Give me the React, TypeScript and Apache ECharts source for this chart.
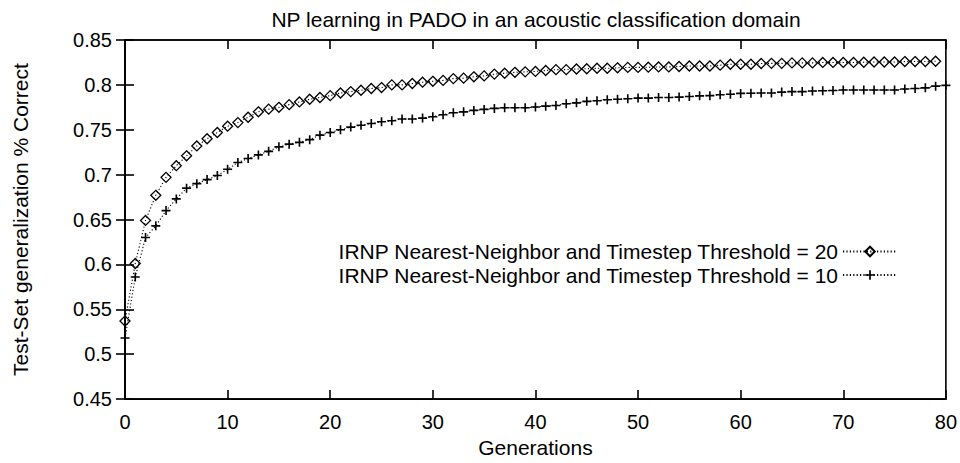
import React, { useEffect, useRef } from "react";
import * as echarts from "echarts";

// Test-set accuracy per generation, timestep threshold = 20 (generations 0..79)
const threshold20: number[] = [
  0.537, 0.601, 0.649, 0.677, 0.697, 0.710, 0.721, 0.732, 0.740, 0.747,
  0.754, 0.758, 0.764, 0.770, 0.773, 0.775, 0.778, 0.781, 0.784, 0.786,
  0.788, 0.791, 0.7925, 0.794, 0.796, 0.797, 0.800, 0.800, 0.8015, 0.803,
  0.804, 0.805, 0.807, 0.8075, 0.809, 0.810, 0.812, 0.813, 0.814, 0.8145,
  0.815, 0.816, 0.817, 0.817, 0.8177, 0.818, 0.8185, 0.8185, 0.819, 0.8195,
  0.8195, 0.8197, 0.820, 0.820, 0.8205, 0.821, 0.821, 0.821, 0.822, 0.823,
  0.823, 0.823, 0.8238, 0.824, 0.824, 0.8245, 0.8245, 0.8245, 0.825, 0.825,
  0.825, 0.825, 0.8252, 0.8255, 0.8255, 0.8255, 0.826, 0.826, 0.826, 0.8263,
];

// Test-set accuracy per generation, timestep threshold = 10 (generations 0..80)
const threshold10: number[] = [
  0.518, 0.586, 0.630, 0.643, 0.660, 0.673, 0.685, 0.690, 0.6945, 0.699,
  0.706, 0.7135, 0.718, 0.722, 0.726, 0.731, 0.734, 0.736, 0.739, 0.744,
  0.747, 0.750, 0.753, 0.755, 0.757, 0.759, 0.760, 0.762, 0.762, 0.763,
  0.7645, 0.7667, 0.769, 0.770, 0.7716, 0.7727, 0.7738, 0.7745, 0.7745, 0.7745,
  0.7753, 0.7763, 0.777, 0.779, 0.780, 0.7817, 0.7824, 0.7835, 0.784, 0.7846,
  0.7853, 0.7853, 0.786, 0.786, 0.7864, 0.787, 0.7878, 0.788, 0.789, 0.7896,
  0.7905, 0.7907, 0.791, 0.791, 0.792, 0.7925, 0.7925, 0.7932, 0.7935, 0.7937,
  0.7943, 0.7943, 0.7943, 0.7943, 0.7943, 0.7943, 0.7954, 0.796, 0.7967, 0.7986,
  0.7995,
];

const seriesNames: string[] = [
  "IRNP Nearest-Neighbor and Timestep Threshold = 20",
  "IRNP Nearest-Neighbor and Timestep Threshold = 10",
];

const FONT = '"Liberation Sans", Arial, Helvetica, sans-serif';
const INK = "#000";

const toPoints = (vals: number[]) => vals.map((v, g) => [g, v]);

const fmtY = (v: number) => String(parseFloat(v.toFixed(2)));

export default function App() {
  const ref = useRef<HTMLDivElement>(null);

  useEffect(() => {
    if (!ref.current) return;
    const chart = echarts.init(ref.current, null, { renderer: "svg" });

    const tickStyle = { show: true, inside: true, length: 9, lineStyle: { color: INK, width: 1.6 } };
    const lineAxis = { show: true, lineStyle: { color: INK, width: 1.6 } };

    chart.setOption({
      animation: false,
      backgroundColor: "#fff",
      textStyle: { fontFamily: FONT, color: INK },
      title: {
        text: "NP learning in PADO in an acoustic classification domain",
        left: 536,
        top: 9,
        textAlign: "center",
        padding: 0,
        textStyle: { fontFamily: FONT, fontSize: 21, fontWeight: "normal", color: INK },
      },
      grid: {
        left: 125,
        right: 14,
        top: 40,
        bottom: 52,
        show: true,
        borderColor: INK,
        borderWidth: 1.6,
      },
      legend: {
        orient: "vertical",
        right: 62,
        top: 241,
        padding: 0,
        align: "right",
        itemWidth: 54,
        itemHeight: 12,
        itemGap: 2.5,
        selectedMode: false,
        textStyle: { fontFamily: FONT, fontSize: 21, color: INK, lineHeight: 21 },
        data: seriesNames,
      },
      xAxis: [
        {
          type: "value",
          min: 0,
          max: 80,
          interval: 10,
          position: "bottom",
          name: "Generations",
          nameLocation: "middle",
          nameGap: 32,
          nameTextStyle: { fontFamily: FONT, fontSize: 21, color: INK },
          axisLine: lineAxis,
          axisTick: tickStyle,
          axisLabel: { margin: 13, fontFamily: FONT, fontSize: 20, color: INK },
          splitLine: { show: false },
        },
        {
          type: "value",
          min: 0,
          max: 80,
          interval: 10,
          position: "top",
          axisLine: lineAxis,
          axisTick: tickStyle,
          axisLabel: { show: false },
          splitLine: { show: false },
        },
      ],
      yAxis: [
        {
          type: "value",
          min: 0.45,
          max: 0.85,
          interval: 0.05,
          position: "left",
          name: "Test-Set generalization % Correct",
          nameLocation: "middle",
          nameGap: 94,
          nameTextStyle: { fontFamily: FONT, fontSize: 21, color: INK },
          axisLine: lineAxis,
          axisTick: tickStyle,
          axisLabel: { margin: 13, fontFamily: FONT, fontSize: 20, color: INK, formatter: fmtY },
          splitLine: { show: false },
        },
        {
          type: "value",
          min: 0.45,
          max: 0.85,
          interval: 0.05,
          position: "right",
          axisLine: lineAxis,
          axisTick: tickStyle,
          axisLabel: { show: false },
          splitLine: { show: false },
        },
      ],
      series: [
        {
          name: seriesNames[0],
          type: "line",
          xAxisIndex: 0,
          yAxisIndex: 0,
          data: toPoints(threshold20),
          symbol: "path://M5,0L10,5L5,10L0,5Z",
          symbolSize: 10,
          showAllSymbol: true,
          itemStyle: { color: "rgba(0,0,0,0)", borderColor: INK, borderWidth: 1.3 },
          lineStyle: { color: INK, width: 1.1, type: [1.2, 2.2] },
          z: 3,
        },
        {
          name: seriesNames[1],
          type: "line",
          xAxisIndex: 0,
          yAxisIndex: 0,
          data: toPoints(threshold10),
          symbol: "path://M4.1,0H5.9V4.1H10V5.9H5.9V10H4.1V5.9H0V4.1H4.1Z",
          symbolSize: 9,
          showAllSymbol: true,
          itemStyle: { color: INK, borderWidth: 0 },
          lineStyle: { color: INK, width: 1.1, type: [1.2, 2.2] },
          z: 3,
        },
      ],
    });

    return () => chart.dispose();
  }, []);

  return (
    <div
      ref={ref}
      style={{ position: "absolute", left: 0, top: 0, width: 960, height: 463 }}
    />
  );
}
